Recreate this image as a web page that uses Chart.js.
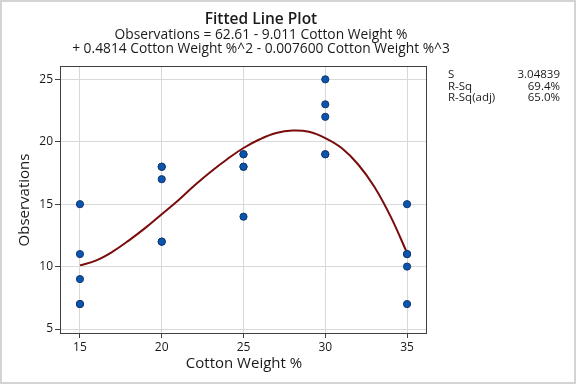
<!DOCTYPE html>
<html>
<head>
<meta charset="utf-8">
<script src="https://cdn.jsdelivr.net/npm/chart.js@4"></script>
<style>
  body { margin: 0; background: #fff; }
  #wrap { width: 576px; height: 384px; }
</style>
</head>
<body>
<div id="wrap"><canvas id="fitChart" width="576" height="384"></canvas></div>
<script>
// observations at each cotton weight %
const obsX = [15, 15, 15, 15, 15, 20, 20, 20, 20, 20, 25, 25, 25, 25, 25, 30, 30, 30, 30, 30, 35, 35, 35, 35, 35];
const obsY = [7, 7, 15, 11, 9, 12, 17, 12, 18, 18, 14, 18, 18, 19, 19, 19, 25, 22, 19, 23, 7, 10, 11, 15, 11];

// fitted curve
const fitX = [15, 16, 17, 18, 19, 20, 21, 22, 23, 24, 25, 26, 27, 28, 29, 30, 31, 32, 33, 34, 35];
const fitY = [10.1, 10.5, 11.2, 12.1, 13.1, 14.2, 15.3, 16.5, 17.6, 18.6, 19.5, 20.2, 20.7, 20.9, 20.8, 20.3, 19.5, 18.2, 16.4, 14.0, 11.1];

const xTicks = [15, 20, 25, 30, 35];
const yTicks = [5, 10, 15, 20, 25];

const titleLines = [
    "Fitted Line Plot",
    "Observations = 62.61 - 9.011 Cotton Weight %",
    "+ 0.4814 Cotton Weight %^2 - 0.007600 Cotton Weight %^3"
];
const statLabels = ["S", "R-Sq", "R-Sq(adj)"];
const statValues = ["3.04839", "69.4%", "65.0%"];

const FONT = "'Open Sans', 'Noto Sans', sans-serif";

const decorPlugin = {
    id: "decor",
    beforeDraw(chart) {
        const c = chart.ctx;
        c.save();
        c.fillStyle = "#fff";
        c.fillRect(0, 0, chart.width, chart.height);
        c.restore();
    },
    afterDatasetsDraw(chart) {
        const c = chart.ctx;
        const a = chart.chartArea;
        c.save();
        // plot frame
        c.strokeStyle = "#404040";
        c.lineWidth = 1;
        c.strokeRect(Math.round(a.left) + 0.5, Math.round(a.top) + 0.5,
            Math.round(a.right - a.left) - 1, Math.round(a.bottom - a.top));
        // outer border
        c.strokeStyle = "#d4d4d4";
        c.lineWidth = 2;
        c.strokeRect(1, 1, chart.width - 2, chart.height - 2);

        // titles
        c.fillStyle = "#1a1a1a";
        c.textAlign = "center";
        c.textBaseline = "alphabetic";
        c.font = "600 15.5px " + FONT;
        c.fillText(titleLines[0], 261, 24);
        c.font = "13.8px " + FONT;
        c.fillText(titleLines[1], 261, 39);
        c.fillText(titleLines[2], 261, 53);

        // axis titles
        c.font = "15px " + FONT;
        c.fillText("Cotton Weight %", 244, 368);
        c.translate(29, 200);
        c.rotate(-Math.PI / 2);
        c.fillText("Observations", 0, 0);
        c.restore();

        // stats panel
        c.save();
        c.fillStyle = "#1a1a1a";
        c.font = "11.5px " + FONT;
        c.textBaseline = "alphabetic";
        statLabels.forEach((s, i) => {
            c.textAlign = "left";
            c.fillText(s, 448, 78 + i * 11.5);
            c.textAlign = "right";
            c.fillText(statValues[i], 560, 78 + i * 11.5);
        });
        c.restore();
    }
};

const ctx = document.getElementById("fitChart").getContext("2d");

new Chart(ctx, {
    type: "scatter",
    data: {
        datasets: [
            {
                label: "Fit",
                type: "line",
                data: fitX.map((x, i) => ({ x: x, y: fitY[i] })),
                borderColor: "#7a0c0c",
                borderWidth: 2,
                pointRadius: 0,
                tension: 0.4,
                fill: false,
                order: 2
            },
            {
                label: "Observations",
                data: obsX.map((x, i) => ({ x: x, y: obsY[i] })),
                backgroundColor: "#0a55b0",
                borderColor: "#16386e",
                borderWidth: 1,
                pointRadius: 3.6,
                order: 1
            }
        ]
    },
    options: {
        responsive: false,
        animation: false,
        layout: { padding: { left: 0, top: 66, right: 149, bottom: 0 } },
        plugins: {
            legend: { display: false },
            tooltip: { enabled: false }
        },
        scales: {
            x: {
                type: "linear",
                min: 13.78,
                max: 36.22,
                afterBuildTicks: s => { s.ticks = xTicks.map(v => ({ value: v })); },
                afterFit: s => { s.height = 51; },
                border: { display: false },
                grid: { color: "#d9d9d9", tickColor: "#404040", tickLength: 5 },
                ticks: { color: "#1a1a1a", font: { family: FONT, size: 12 }, padding: 2 }
            },
            y: {
                type: "linear",
                min: 4.68,
                max: 26.07,
                afterBuildTicks: s => { s.ticks = yTicks.map(v => ({ value: v })); },
                afterFit: s => { s.width = 60; },
                border: { display: false },
                grid: { color: "#d9d9d9", tickColor: "#404040", tickLength: 5 },
                ticks: { color: "#1a1a1a", font: { family: FONT, size: 12 }, padding: 2 }
            }
        }
    },
    plugins: [decorPlugin]
});
</script>
</body>
</html>
